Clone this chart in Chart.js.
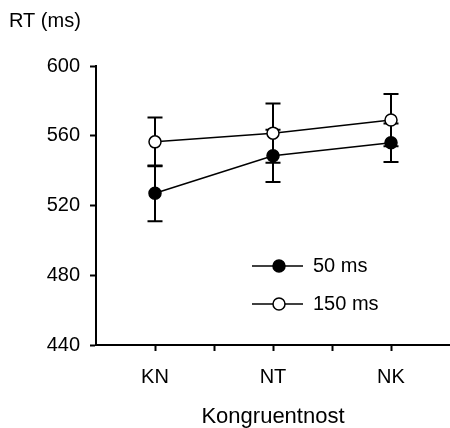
<!DOCTYPE html>
<html>
<head>
<meta charset="utf-8">
<script src="https://cdn.jsdelivr.net/npm/chart.js@4/dist/chart.umd.min.js"></script>
<style>
  html, body { margin: 0; padding: 0; background: #fff; }
  #wrap { width: 450px; height: 428px; }
</style>
</head>
<body>
<div id="wrap"><canvas id="rtChart" width="450" height="428"></canvas></div>
<script>
// values
const categories = ["KN", "NT", "NK"];
const rt50 = [527, 548.5, 556];
const err50 = [16, 15, 11];
const rt150 = [556.5, 561.5, 569];
const err150 = [14, 17, 15];
const yTicks = [440, 480, 520, 560, 600];
const seriesLabels = ["50 ms", "150 ms"];

Chart.defaults.font.family = "'Liberation Sans', Arial, sans-serif";
Chart.defaults.font.size = 20;
Chart.defaults.color = "#000";

function toPoints(values) {
    return values.map((v, i) => ({ x: i + 1, y: v }));
}

// error bars drawn under the lines and markers
const errorBars = {
    id: "errorBars",
    beforeDatasetsDraw(chart) {
        const ctx = chart.ctx;
        const xs = chart.scales.x;
        const ys = chart.scales.y;
        ctx.save();
        ctx.strokeStyle = "#000";
        ctx.lineWidth = 2;
        chart.data.datasets.forEach(ds => {
            ds.data.forEach((p, i) => {
                const e = ds.errors[i];
                const x = xs.getPixelForValue(p.x);
                const yTop = ys.getPixelForValue(p.y + e);
                const yBot = ys.getPixelForValue(p.y - e);
                ctx.beginPath();
                ctx.moveTo(x, yTop);
                ctx.lineTo(x, yBot);
                ctx.moveTo(x - 7.5, yTop);
                ctx.lineTo(x + 7.5, yTop);
                ctx.moveTo(x - 7.5, yBot);
                ctx.lineTo(x + 7.5, yBot);
                ctx.stroke();
            });
        });
        ctx.restore();
    }
};

// legend inside the plot: line with marker, then label
const insideLegend = {
    id: "insideLegend",
    afterDraw(chart) {
        const ctx = chart.ctx;
        const area = chart.chartArea;
        const x0 = area.left + 156;
        const rows = [area.top + 200, area.top + 238];
        ctx.save();
        chart.data.datasets.forEach((ds, i) => {
            const y = rows[i];
            ctx.strokeStyle = "#000";
            ctx.lineWidth = 1.5;
            ctx.beginPath();
            ctx.moveTo(x0, y);
            ctx.lineTo(x0 + 51, y);
            ctx.stroke();
            ctx.beginPath();
            ctx.arc(x0 + 27, y, 6, 0, Math.PI * 2);
            ctx.fillStyle = ds.pointBackgroundColor;
            ctx.fill();
            ctx.stroke();
            ctx.fillStyle = "#000";
            ctx.font = "20px 'Liberation Sans', Arial, sans-serif";
            ctx.textBaseline = "middle";
            ctx.textAlign = "left";
            ctx.fillText(ds.label, x0 + 61, y);
        });
        ctx.restore();
    }
};

const ctxRT = document.getElementById("rtChart");
const dataRT = {
    datasets: [{
        label: seriesLabels[0],
        data: toPoints(rt50),
        errors: err50,
        borderColor: "#000",
        borderWidth: 1.5,
        pointRadius: 6,
        pointBorderWidth: 1.5,
        pointBackgroundColor: "#000",
        pointBorderColor: "#000",
        tension: 0,
    }, {
        label: seriesLabels[1],
        data: toPoints(rt150),
        errors: err150,
        borderColor: "#000",
        borderWidth: 1.5,
        pointRadius: 6,
        pointBorderWidth: 1.5,
        pointBackgroundColor: "#fff",
        pointBorderColor: "#000",
        tension: 0,
    }],
};
const configRT = {
    type: "line",
    data: dataRT,
    options: {
        responsive: false,
        animation: false,
        layout: { autoPadding: false, padding: { left: 9, right: 0, top: 0, bottom: 0 } },
        plugins: {
            legend: { display: false },
            tooltip: { enabled: false },
            title: {
                display: true,
                text: "RT (ms)",
                align: "start",
                font: { size: 20, weight: "normal" },
                color: "#000",
                padding: { top: 9, bottom: 33 },
            },
        },
        scales: {
            x: {
                type: "linear",
                min: 0.5,
                max: 3.5,
                border: { display: true, color: "#000", width: 2 },
                grid: {
                    drawOnChartArea: false,
                    drawTicks: true,
                    tickLength: 6,
                    tickWidth: 2,
                    tickColor: c => (c.tick && c.tick.value > 0.5 && c.tick.value < 3.5) ? "#000" : "rgba(0,0,0,0)",
                },
                ticks: {
                    stepSize: 0.5,
                    padding: 14,
                    maxRotation: 0,
                    autoSkip: false,
                    font: { size: 20 },
                    callback: v => Number.isInteger(v) && categories[v - 1] ? categories[v - 1] : "",
                },
                title: {
                    display: true,
                    text: "Kongruentnost",
                    font: { size: 22 },
                    padding: { top: 10, bottom: -2 },
                },
                afterFit: scale => {
                    scale.height = 83;
                    scale.paddingLeft = 0;
                    scale.paddingRight = 0;
                },
            },
            y: {
                min: yTicks[0],
                max: yTicks[yTicks.length - 1],
                border: { display: true, color: "#000", width: 2 },
                grid: {
                    drawOnChartArea: false,
                    drawTicks: true,
                    tickLength: 6,
                    tickWidth: 2,
                    tickColor: "#000",
                },
                ticks: {
                    stepSize: 40,
                    padding: 10,
                    font: { size: 20 },
                },
                afterBuildTicks: scale => { scale.ticks = yTicks.map(v => ({ value: v })); },
                afterFit: scale => { scale.width = 87; },
            },
        },
    },
    plugins: [errorBars, insideLegend],
};
new Chart(ctxRT, configRT);
</script>
</body>
</html>
